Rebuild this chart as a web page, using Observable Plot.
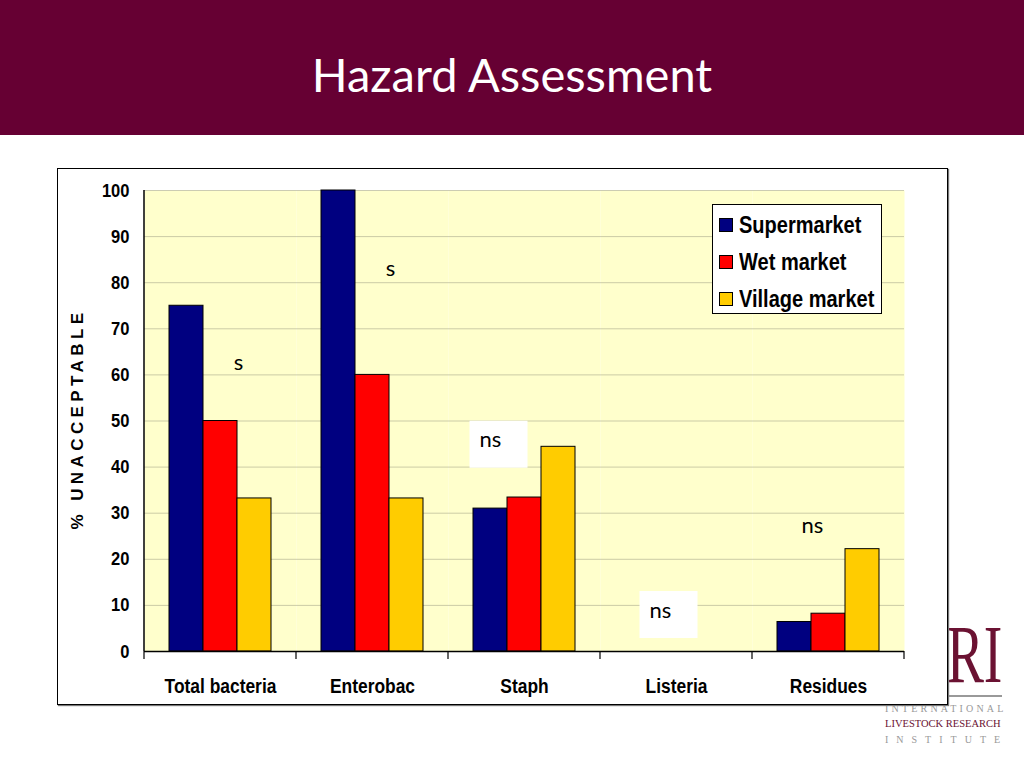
<!DOCTYPE html>
<html>
<head>
<meta charset="utf-8">
<script src="https://cdn.jsdelivr.net/npm/d3@7"></script>
<script src="https://cdn.jsdelivr.net/npm/@observablehq/plot@0.6"></script>
<style>
  html, body { margin: 0; padding: 0; }
  body { width: 1024px; height: 768px; background: #fff; position: relative; overflow: hidden; font-family: "Liberation Sans", Arial, sans-serif; }
  #titlebar { position: absolute; left: 0; top: 0; width: 1024px; height: 135px; background: #660033; }
  #title { position: absolute; left: 0; top: 46px; width: 1024px; text-align: center; color: #fff; font-family: Lato, "Open Sans", sans-serif; font-size: 47px; line-height: 56px; }
  #chart { position: absolute; left: 57px; top: 168px; width: 891px; height: 537px; background: #fff; z-index: 2; }
  #chart svg { position: absolute; left: 0; top: 0; }
  #border { position: absolute; left: 0; top: 0; width: 891px; height: 537px; box-sizing: border-box; border: 1.5px solid #000; box-shadow: 1px 1px 1px #777; pointer-events: none; }
  #ytitle { position: absolute; left: 21px; top: 251px; transform: translate(-50%, -50%) rotate(-90deg); white-space: nowrap; font-family: "Liberation Sans", Arial, sans-serif; font-weight: bold; font-size: 17px; letter-spacing: 4.4px; color: #000; }
  #legend { position: absolute; left: 655px; top: 36px; width: 170px; height: 110px; box-sizing: border-box; border: 1px solid #000; background: #fff; }
  .lrow { position: absolute; left: 6px; height: 26px; display: flex; align-items: center; white-space: nowrap; }
  .lsw { width: 12px; height: 12px; border: 1px solid #000; margin-right: 6px; flex: none; }
  .ltx { display: inline-block; font-family: "Liberation Sans", Arial, sans-serif; font-weight: bold; font-size: 23px; color: #000; transform: scaleX(0.87); transform-origin: left center; white-space: nowrap; }
  #logo { position: absolute; left: 880px; top: 610px; width: 122px; height: 150px; z-index: 1; }
  #ilri { position: absolute; right: 0; top: 0; font-family: "Liberation Serif", "DejaVu Serif", serif; font-size: 82px; line-height: 90px; color: #6b1232; transform: scaleX(0.68); transform-origin: right center; }
  #logoline { position: absolute; left: 62px; top: 85px; width: 60px; height: 1.5px; background: #999; }
  .lg { position: absolute; left: 5px; width: 117px; font-family: "Liberation Serif", "DejaVu Serif", serif; white-space: nowrap; }
</style>
</head>
<body>
<div id="titlebar"><div id="title">Hazard Assessment</div></div>
<div id="logo">
  <div id="ilri">ILRI</div>
  <div id="logoline"></div>
  <div class="lg" style="top:93px;font-size:10px;letter-spacing:3.2px;color:#999;">INTERNATIONAL</div>
  <div class="lg" style="top:108px;font-size:10.5px;letter-spacing:0px;color:#6b1232;">LIVESTOCK RESEARCH</div>
  <div class="lg" style="top:124px;font-size:10px;letter-spacing:8px;color:#999;">INSTITUTE</div>
</div>
<div id="chart">
  <div id="ytitle">% UNACCEPTABLE</div>
  <div id="legend"></div>
  <div id="border"></div>
</div>
<script>
// ---- data ----
const categories = ["Total bacteria", "Enterobac", "Staph", "Listeria", "Residues"];
const series = ["Supermarket", "Wet market", "Village market"];
const supermarket = [75, 100, 31, 0, 6.4];
const wetMarket = [50, 60, 33.4, 0, 8.2];
const villageMarket = [33.2, 33.2, 44.4, 0, 22.2];
const seriesColors = ["#000080", "#FF0000", "#FFCC00"];
const yTicks = [0, 10, 20, 30, 40, 50, 60, 70, 80, 90, 100];

// significance annotations
const annCategory = ["Total bacteria", "Enterobac", "Staph", "Listeria", "Residues"];
const annSeries = ["Village market", "Village market", "Supermarket", "Wet market", "Wet market"];
const annValue = [62.5, 83, 45.8, 8.9, 27.3];
const annLabel = ["s", "s", "ns", "ns", "ns"];
const annBoxed = [false, false, true, true, false];

// ---- build tables ----
const seriesValues = [supermarket, wetMarket, villageMarket];
const rows = [];
categories.forEach((c, i) => {
  series.forEach((s, j) => rows.push({category: c, series: s, value: seriesValues[j][i]}));
});
const ann = annCategory.map((c, i) => ({category: c, series: annSeries[i], value: annValue[i], label: annLabel[i], boxed: annBoxed[i]}));

const font = "'Liberation Sans', Arial, sans-serif";
const annFont = "Lato, 'Open Sans', sans-serif";
const boxSymbol = {draw(ctx) { ctx.rect(-29, -23.5, 58, 47); }};

const centered = ann.filter(d => d.series === "Supermarket");
const shifted = ann.filter(d => d.series !== "Supermarket");

const plot = Plot.plot({
  width: 891,
  height: 537,
  marginLeft: 86,
  marginTop: 22,
  marginRight: 43,
  marginBottom: 54,
  style: {background: "transparent", overflow: "visible"},
  fx: {domain: categories, padding: 0, label: null},
  x: {domain: series, paddingInner: 0, paddingOuter: 0.735, axis: null},
  y: {domain: [0, 100], label: null},
  color: {domain: series, range: seriesColors},
  marks: [
    Plot.frame({fill: "#FFFFCC", stroke: null}),
    Plot.gridY(yTicks, {stroke: "#9a9a80", strokeOpacity: 0.5, strokeWidth: 1}),
    Plot.axisY(yTicks, {anchor: "left", tickSize: 6, tickPadding: 9, label: null, fontSize: 19, fontWeight: "bold", fontFamily: font, fill: "#000", stroke: null, tickFormat: d => String(d)}),
    Plot.barY(rows, {fx: "category", x: "series", y: "value", fill: "series", stroke: "#000", strokeWidth: 1}),
    Plot.ruleY([0], {stroke: "#000", strokeWidth: 1.5}),
    Plot.axisFx({anchor: "bottom", tickSize: 0, tickPadding: 27, label: null, fontSize: 20, fontWeight: "bold", fontFamily: font, fill: "#000"}),
    Plot.dot(centered.filter(d => d.boxed), {fx: "category", x: "series", y: "value", symbol: boxSymbol, r: 10, fill: "#fff", stroke: null, dx: 8, dy: 4}),
    Plot.dot(shifted.filter(d => d.boxed), {fx: "category", x: "series", y: "value", symbol: boxSymbol, r: 10, fill: "#fff", stroke: null, dx: -8, dy: 4}),
    Plot.text(centered, {fx: "category", x: "series", y: "value", text: "label", fontSize: 22, fontFamily: annFont, fill: "#000"}),
    Plot.text(shifted, {fx: "category", x: "series", y: "value", text: "label", fontSize: 22, fontFamily: annFont, fill: "#000", dx: -16})
  ]
});

// narrow the bold axis labels (the original uses a condensed bold face)
const svg = d3.select(plot);
svg.selectAll('g[aria-label="y-axis tick label"] text, g[aria-label="fx-axis tick label"] text').each(function () {
  const t = this.getAttribute("transform") || "";
  this.setAttribute("transform", t + " scale(0.87,1)");
});

// category boundary ticks and the y axis line, from the library's scales
const fxs = plot.scale("fx");
const ys = plot.scale("y");
const bounds = categories.map(c => fxs.apply(c));
bounds.push(fxs.apply(categories[categories.length - 1]) + fxs.bandwidth);
const y0 = ys.apply(0), yTop = ys.apply(100);
const g = svg.append("g").attr("stroke", "#000").attr("stroke-width", 1.2);
g.selectAll("line.b").data(bounds).join("line")
  .attr("x1", d => d).attr("x2", d => d).attr("y1", y0).attr("y2", y0 + 8);
g.append("line").attr("x1", bounds[0]).attr("x2", bounds[0]).attr("y1", yTop).attr("y2", y0).attr("stroke-width", 1.5);

const chart = document.getElementById("chart");
chart.insertBefore(plot, chart.firstChild);

// legend built from the series arrays
const legend = document.getElementById("legend");
series.forEach((s, i) => {
  const row = document.createElement("div");
  row.className = "lrow";
  row.style.top = (7 + i * 37) + "px";
  const sw = document.createElement("div");
  sw.className = "lsw";
  sw.style.background = seriesColors[i];
  const tx = document.createElement("span");
  tx.className = "ltx";
  tx.textContent = s;
  row.appendChild(sw);
  row.appendChild(tx);
  legend.appendChild(row);
});
</script>
</body>
</html>
